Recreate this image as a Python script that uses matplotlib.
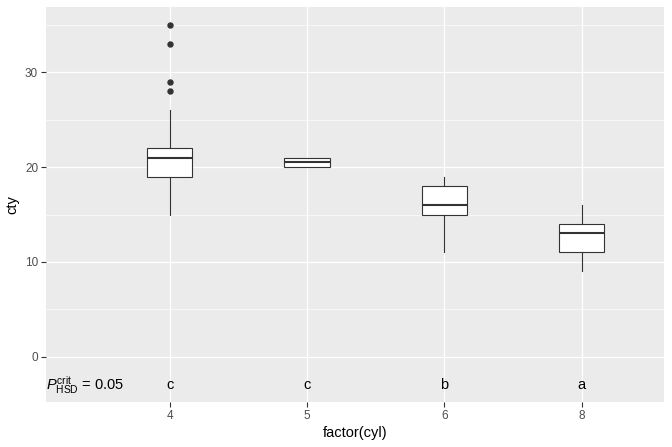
import matplotlib
matplotlib.use("Agg")
import matplotlib.pyplot as plt

plt.rcParams['font.family'] = ['Liberation Sans', 'DejaVu Sans']
plt.rcParams['mathtext.fontset'] = 'custom'
plt.rcParams['mathtext.rm'] = 'Liberation Sans'
plt.rcParams['mathtext.it'] = 'Liberation Sans:italic'

# boxplot stats of cty per cylinder count
cyl_labels = ['4', '5', '6', '8']
whisk_lo = [15, 20, 11, 9]
q1 = [19, 20, 15, 11]
med = [21, 20.5, 16, 13]
q3 = [22, 21, 18, 14]
whisk_hi = [26, 21, 19, 16]
outliers = [[28, 29, 33, 35], [], [], []]
letters = ['c', 'c', 'b', 'a']
letter_y = -3
p_label = r'$P_{\mathrm{HSD}}^{\mathrm{crit}}$ = 0.05'

edge = '#333333'
fig = plt.figure(figsize=(6.72, 4.47), dpi=100)
ax = fig.add_axes([46/672, (447-401.7)/447, (664-46)/672, (401.7-7)/447])
ax.set_facecolor('#EBEBEB')
for s in ax.spines.values():
    s.set_visible(False)

pos = list(range(1, len(cyl_labels) + 1))
ax.set_xlim(0.1, 4.6)
ax.set_ylim(-4.75, 36.9)

# grid
for y in [5, 15, 25, 35]:
    ax.axhline(y, color='white', lw=0.45, zorder=0)
for y in [0, 10, 20, 30]:
    ax.axhline(y, color='white', lw=0.9, zorder=0)
for x in pos:
    ax.axvline(x, color='white', lw=0.9, zorder=0)

stats = []
for i in range(len(cyl_labels)):
    stats.append(dict(whislo=whisk_lo[i], q1=q1[i], med=med[i], q3=q3[i],
                      whishi=whisk_hi[i], fliers=outliers[i]))

ax.bxp(stats, positions=pos, widths=0.33, patch_artist=True, showcaps=False,
       boxprops=dict(facecolor='white', edgecolor=edge, linewidth=0.8),
       whiskerprops=dict(color=edge, linewidth=0.8),
       medianprops=dict(color=edge, linewidth=1.5),
       flierprops=dict(marker='o', markerfacecolor=edge, markeredgecolor=edge,
                       markersize=3.6), zorder=3)

for x, lab in zip(pos, letters):
    ax.text(x, letter_y, lab, ha='center', va='center', fontsize=10.5, color='black')
ax.text(0.1, letter_y, p_label, ha='left', va='center', fontsize=10.5, color='black')

ax.set_xticks(pos)
ax.set_xticklabels(cyl_labels)
ax.set_yticks([0, 10, 20, 30])
ax.tick_params(axis='both', colors='#333333', labelcolor='#4D4D4D', labelsize=8.5,
               length=3.7, width=0.8, pad=2)
ax.set_xlabel('factor(cyl)', fontsize=10.5, labelpad=3)
ax.set_ylabel('cty', fontsize=10.5, labelpad=4)

fig.savefig('out.png', dpi=100)
